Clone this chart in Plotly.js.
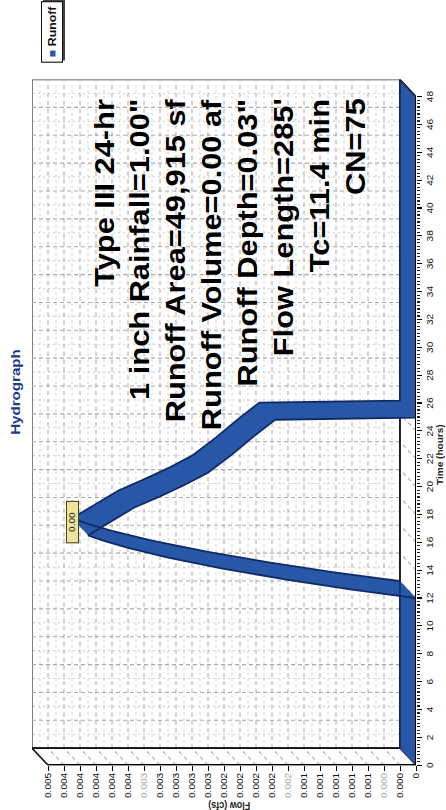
<!DOCTYPE html>
<html>
<head>
<meta charset="utf-8">
<script src="https://cdn.plot.ly/plotly-3.0.1.min.js"></script>
<style>
  html, body { margin: 0; padding: 0; background: #fff; overflow: hidden; }
  #page { position: relative; width: 446px; height: 810px; overflow: hidden; background: #fff; }
  /* the hydrograph is laid out landscape and turned onto the portrait page */
  #chart {
    position: absolute; left: 0; top: 0;
    width: 723px; height: 446px;
    transform-origin: 0 0;
    transform: translate(0px, 810px) rotate(-90deg) scale(1.1203, 1);
  }
</style>
</head>
<body>
<div id="page"><div id="chart"></div></div>
<script>
// ---- hydrograph data: time (hours) and runoff flow (cfs) ----
const timeHours = [0, 12.0, 12.6, 13.3, 14.1, 14.9, 15.6, 16.1, 16.5, 17.5, 18.5, 19.3,
                   20.1, 21.0, 22.3, 23.6, 24.8, 24.95, 48];
const flowCfs   = [0, 0, 0.0008, 0.0016, 0.0024, 0.0031, 0.0036, 0.0039, 0.0041, 0.0038, 0.00352, 0.0032,
                   0.0029, 0.0026, 0.0023, 0.00203, 0.00176, 0, 0];
const seriesName = 'Runoff';

// ---- axis ticks ----
const timeTicks = [0, 2, 4, 6, 8, 10, 12, 14, 16, 18, 20, 22, 24, 26, 28, 30, 32, 34, 36, 38, 40, 42, 44, 46, 48];
const timeTickText = ['0', '2', '4', '6', '8', '10', '12', '14', '16', '18', '20', '22', '24', '26', '28', '30',
                      '32', '34', '36', '38', '40', '42', '44', '46', '48'];
const flowTicks = [0, 0.0002, 0.0004, 0.0006, 0.0008, 0.0010, 0.0012, 0.0014, 0.0016, 0.0018, 0.0020, 0.0022,
                   0.0024, 0.0026, 0.0028, 0.0030, 0.0032, 0.0034, 0.0036, 0.0038, 0.0040, 0.0042, 0.0044, 0.0046];
const flowTickText = ['0', '0.000', '0.000', '0.001', '0.001', '0.001', '0.001', '0.001', '0.002', '0.002', '0.002', '0.002',
                      '0.002', '0.003', '0.003', '0.003', '0.003', '0.003', '0.004', '0.004', '0.004', '0.004', '0.004', '0.005'];
const fadedFlowTicks = [0.0004, 0.0016, 0.0034];

// ---- text ----
const chartTitle = 'Hydrograph';
const timeTitle = 'Time (hours)';
const flowTitle = 'Flow (cfs)';
const infoLines = ['Type III 24-hr', '1 inch Rainfall=1.00"', 'Runoff Area=49,915 sf', 'Runoff Volume=0.00 af',
                   'Runoff Depth=0.03"', "Flow Length=285'", 'Tc=11.4 min', 'CN=75'];

// ---- geometry / style ----
const FONT = 'Liberation Sans, Arial, Helvetica, sans-serif';
const T_MAX = 48, Q_TOP = 0.0046;
const W = 723, H = 446;
const S = 810 / W;                      // horizontal stretch applied by CSS
const M = { l: 45 / S, r: W - 730 / S, t: 32, b: 30 };
const plotW = W - M.l - M.r, plotH = H - M.t - M.b;
const DT = (T_MAX * 17) / (713 - 45);   // depth of the 3-D box along time (hours)
const DQ = 0.0002;                      // depth of the 3-D box along flow (cfs)
const paperX = X => (X / S - M.l) / plotW;
const paperY = Y => (H - M.b - Y) / plotH;

const BLUE = '#2757a6', NAVY = '#0e2a64';

// ribbon: each segment of the curve swept from the front plane to the back plane
function ribbon(t, q) {
  const xs = [], ys = [];
  for (let i = 0; i < t.length - 1; i++) {
    let quad = [[t[i], q[i]], [t[i + 1], q[i + 1]], [t[i + 1] + DT, q[i + 1] + DQ], [t[i] + DT, q[i] + DQ]];
    const cross = (t[i + 1] - t[i]) * DQ - (q[i + 1] - q[i]) * DT;
    if (cross < 0) quad.reverse();
    quad.push(quad[0]);
    quad.forEach(p => { xs.push(p[0]); ys.push(p[1]); });
    xs.push(null); ys.push(null);
  }
  return { xs, ys };
}
const rib = ribbon(timeHours, flowCfs);

const traces = [
  { type: 'scatter', mode: 'lines', x: rib.xs, y: rib.ys, fill: 'toself', fillcolor: BLUE,
    line: { width: 0, color: BLUE }, name: seriesName, hoverinfo: 'skip', showlegend: false },
  { type: 'scatter', mode: 'lines', x: timeHours, y: flowCfs,
    line: { color: NAVY, width: 1.6 }, hoverinfo: 'skip', showlegend: false },
  { type: 'scatter', mode: 'lines', x: timeHours.map(t => t + DT), y: flowCfs.map(q => q + DQ),
    line: { color: NAVY, width: 1.6 }, hoverinfo: 'skip', showlegend: false }
];

// ---- box walls and grid ----
const edge = { color: '#3a3a3a', width: 1.3 };
const grid = { color: '#a9a9a9', width: 1, dash: '4px,3px' };
const gridMinor = { color: '#cfcfcf', width: 1, dash: '2px,3px' };
const shapes = [];
const ln = (x0, y0, x1, y1, line, layer) => ({ type: 'line', xref: 'x', yref: 'y', x0, y0, x1, y1, line, layer: layer || 'below' });

shapes.push({ type: 'rect', xref: 'x', yref: 'y', x0: DT, x1: T_MAX + DT, y0: DQ, y1: Q_TOP + DQ,
              fillcolor: '#fff', line: edge, layer: 'below' });
timeTicks.forEach((t, i) => {
  if (i > 0) {
    const mid = (timeTicks[i - 1] + t) / 2;
    shapes.push(ln(mid + DT, DQ, mid + DT, Q_TOP + DQ, gridMinor));
  }
  if (t > 0 && t < T_MAX) shapes.push(ln(t + DT, DQ, t + DT, Q_TOP + DQ, grid));
});
flowTicks.forEach((q, i) => {
  if (i > 0) {
    const mid = (flowTicks[i - 1] + q) / 2;
    shapes.push(ln(DT, mid + DQ, T_MAX + DT, mid + DQ, gridMinor));
  }
  if (q > 0 && q < Q_TOP) shapes.push(ln(DT, q + DQ, T_MAX + DT, q + DQ, grid));
});
// left wall
shapes.push({ type: 'path', xref: 'x', yref: 'y', layer: 'below', fillcolor: '#fff', line: edge,
              path: `M 0,0 L 0,${Q_TOP} L ${DT},${Q_TOP + DQ} L ${DT},${DQ} Z` });
flowTicks.forEach(q => { if (q > 0 && q < Q_TOP) shapes.push(ln(0, q, DT, q + DQ, grid)); });
// floor
shapes.push({ type: 'path', xref: 'x', yref: 'y', layer: 'below', fillcolor: '#fff', line: edge,
              path: `M 0,0 L ${T_MAX},0 L ${T_MAX + DT},${DQ} L ${DT},${DQ} Z` });
timeTicks.forEach(t => { if (t > 0 && t < T_MAX) shapes.push(ln(t, 0, t + DT, DQ, grid)); });
// inner corners
shapes.push(ln(DT, DQ, DT, Q_TOP + DQ, { color: '#111', width: 1.6 }));
shapes.push(ln(DT, DQ, T_MAX + DT, DQ, { color: '#111', width: 1.6 }));
// front edges
shapes.push(ln(0, 0, T_MAX, 0, { color: '#000', width: 2 }, 'above'));
shapes.push(ln(0, 0, 0, Q_TOP, { color: '#000', width: 2 }, 'above'));
shapes.push(ln(T_MAX, 0, T_MAX + DT, DQ, { color: '#222', width: 1.4 }, 'above'));
shapes.push(ln(0, Q_TOP, DT, Q_TOP + DQ, { color: '#222', width: 1.4 }, 'above'));

// ---- annotations ----
const annotations = infoLines.map((txt, i) => ({
  xref: 'paper', yref: 'paper', x: paperX(713), y: paperY(104 + 35.9 * i),
  xanchor: 'right', yanchor: 'middle', showarrow: false,
  text: '<b>' + txt + '</b>', font: { family: FONT, size: 27.5, color: '#000' }
}));

// peak flow tag
let iPeak = 0;
flowCfs.forEach((q, i) => { if (q > flowCfs[iPeak]) iPeak = i; });
annotations.push({
  xref: 'x', yref: 'y', x: timeHours[iPeak] + DT * 0.8, y: flowCfs[iPeak] + DQ,
  xanchor: 'center', yanchor: 'middle', showarrow: false,
  text: flowCfs[iPeak].toFixed(2), font: { family: FONT, size: 9, color: '#222' },
  bgcolor: '#eee39b', bordercolor: '#4d4214', borderwidth: 1, width: 36, height: 11, borderpad: 0
});

// axis titles
annotations.push({ xref: 'paper', yref: 'paper', x: paperX(355), y: paperY(440), xanchor: 'center', yanchor: 'middle',
  showarrow: false, text: '<b>' + timeTitle + '</b>', font: { family: FONT, size: 9, color: '#222' } });
annotations.push({ xref: 'paper', yref: 'paper', x: paperX(5), y: paperY(229), xanchor: 'center', yanchor: 'middle',
  textangle: -90, showarrow: false, text: '<b>' + flowTitle + '</b>', font: { family: FONT, size: 9, color: '#222' } });

// series key
const keyText = `<span style="color:${BLUE}">■</span> <b>${seriesName}</b>`;
annotations.push({ xref: 'paper', yref: 'paper', x: paperX(778), y: paperY(52), xanchor: 'center', yanchor: 'middle',
  xshift: 2, yshift: -2, showarrow: false, text: keyText.replace(BLUE, '#444'),
  font: { family: FONT, size: 11, color: '#444' }, bgcolor: '#444', bordercolor: '#444', borderwidth: 1, borderpad: 4 });
annotations.push({ xref: 'paper', yref: 'paper', x: paperX(778), y: paperY(52), xanchor: 'center', yanchor: 'middle',
  showarrow: false, text: keyText,
  font: { family: FONT, size: 11, color: '#111' }, bgcolor: '#fff', bordercolor: '#111', borderwidth: 1, borderpad: 4 });

// ---- tick text ----
const flowLabels = flowTicks.map((q, i) =>
  fadedFlowTicks.some(f => Math.abs(f - q) < 1e-9) ? `<span style="color:#a9a9a9">${flowTickText[i]}</span>` : flowTickText[i]);
const minorTimeTicks = [];
for (let i = 0; i < timeTicks.length - 1; i++) {
  const a = timeTicks[i], b = timeTicks[i + 1];
  for (let k = 1; k < 8; k++) minorTimeTicks.push(a + (b - a) * k / 8);
}

const layout = {
  width: W, height: H, autosize: false,
  margin: M,
  paper_bgcolor: '#fff', plot_bgcolor: 'rgba(0,0,0,0)',
  showlegend: false,
  font: { family: FONT, size: 9, color: '#222' },
  title: { text: '<b>' + chartTitle + '</b>', x: (418 / S) / W, xref: 'container', xanchor: 'center',
           y: 1 - 15 / H, yref: 'container', yanchor: 'middle',
           font: { family: FONT, size: 13.5, color: '#1d3c8a' } },
  xaxis: {
    range: [0, T_MAX + DT], fixedrange: true, showgrid: false, zeroline: false, showline: false,
    tickmode: 'array', tickvals: timeTicks, ticktext: timeTickText,
    ticks: 'outside', ticklen: 5, tickwidth: 1, tickcolor: '#000',
    tickfont: { family: FONT, size: 9, color: '#111' },
    minor: { tickmode: 'array', tickvals: minorTimeTicks, ticks: 'outside', ticklen: 3, tickcolor: '#222', showgrid: false }
  },
  yaxis: {
    range: [0, Q_TOP + DQ], fixedrange: true, showgrid: false, zeroline: false, showline: false,
    tickmode: 'array', tickvals: flowTicks, ticktext: flowLabels,
    ticks: 'outside', ticklen: 4, tickwidth: 1, tickcolor: '#000',
    tickfont: { family: FONT, size: 9, color: '#111' }
  },
  shapes, annotations
};

Plotly.newPlot('chart', traces, layout, { staticPlot: true, displayModeBar: false });
</script>
</body>
</html>
